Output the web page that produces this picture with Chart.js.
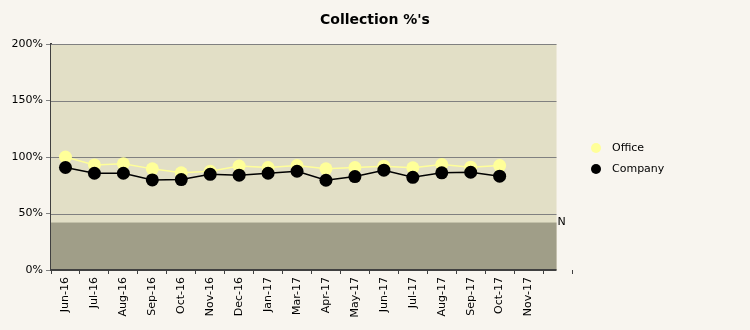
<!DOCTYPE html>
<html><head><meta charset="utf-8">
<script src="https://cdn.jsdelivr.net/npm/chart.js@4"></script>
<style>html,body{margin:0;padding:0;background:#f8f5ef;}#wrap{width:750px;height:330px;position:relative;}</style>
</head><body><div id="wrap"><canvas id="c" width="750" height="330"></canvas></div>
<script>
const categories = ["Jun-16","Jul-16","Aug-16","Sep-16","Oct-16","Nov-16","Dec-16","Jan-17","Mar-17","Apr-17","May-17","Jun-17","Jul-17","Aug-17","Sep-17","Oct-17","Nov-17",""];
const officeValues = [100,93,94,89.5,86,87.4,92,90.7,92.4,89.5,90.7,91.9,90.4,93.3,91,92.4,null,null];
const companyValues = [90.7,85.6,85.6,79.7,80,84.7,83.9,85.6,87.4,79.4,82.7,88.3,82,86,86.5,83,null,null];
const yTicks = [0,50,100,150,200];
const thresholdValue = 42;
const thresholdLabel = "N";
const titleText = "Collection %'s";

const FONT = "'DejaVu Sans', sans-serif";

const decor = {
  id: 'decor',
  beforeDatasetsDraw(chart) {
    const {ctx, chartArea, scales:{x,y}} = chart;
    const right = x.getPixelForValue(categories.length - 1) - 1;
    ctx.save();
    ctx.fillStyle = '#e2dfc6';
    ctx.fillRect(chartArea.left, chartArea.top, right - chartArea.left, chartArea.bottom - chartArea.top);
    const yb = y.getPixelForValue(thresholdValue);
    ctx.fillStyle = '#a09e88';
    ctx.fillRect(chartArea.left, yb, right - chartArea.left, chartArea.bottom - yb);
    ctx.strokeStyle = '#808080';
    ctx.lineWidth = 1;
    yTicks.forEach(v => {
      if (v === 0) return;
      const py = Math.round(y.getPixelForValue(v)) + 0.5;
      ctx.beginPath(); ctx.moveTo(chartArea.left, py); ctx.lineTo(right, py); ctx.stroke();
    });
    ctx.strokeStyle = '#404040';
    ctx.lineWidth = 2;
    ctx.beginPath(); ctx.moveTo(chartArea.left, chartArea.bottom); ctx.lineTo(right, chartArea.bottom); ctx.stroke();
    ctx.fillStyle = '#000';
    ctx.font = '11px ' + FONT;
    ctx.textAlign = 'left'; ctx.textBaseline = 'middle';
    ctx.fillText(thresholdLabel, right + 1, yb);
    ctx.restore();
  },
  afterDraw(chart) {
    const {ctx} = chart;
    ctx.save();
    ctx.fillStyle = '#000';
    ctx.font = 'bold 14px ' + FONT;
    ctx.textAlign = 'center'; ctx.textBaseline = 'middle';
    ctx.fillText(titleText, 375, 20);
    ctx.font = '11px ' + FONT;
    ctx.textAlign = 'left';
    chart.data.datasets.forEach((ds, i) => {
      const cy = 148 + i * 21;
      ctx.fillStyle = ds.pointBackgroundColor;
      ctx.beginPath(); ctx.arc(596, cy, 5, 0, Math.PI * 2); ctx.fill();
      ctx.fillStyle = '#000';
      ctx.fillText(ds.label, 612, cy);
    });
    ctx.restore();
  }
};

new Chart(document.getElementById('c'), {
  type: 'line',
  data: {
    labels: categories,
    datasets: [
      { label: 'Office', data: officeValues, borderColor: '#ffff99', backgroundColor: '#ffff99',
        pointBackgroundColor: '#ffff99', pointBorderWidth: 0, pointRadius: 6.5, borderWidth: 1.5, order: 2, spanGaps: false },
      { label: 'Company', data: companyValues, borderColor: '#000', backgroundColor: '#000',
        pointBackgroundColor: '#000', pointBorderWidth: 0, pointRadius: 6.5, borderWidth: 1.5, order: 1 }
    ]
  },
  options: {
    responsive: false, animation: false,
    layout: { padding: { top: 44, right: 178, left: 0, bottom: 0 } },
    plugins: { legend: { display: false }, title: { display: false }, tooltip: { enabled: false } },
    scales: {
      x: {
        offset: true,
        grid: { offset: true, drawOnChartArea: false, color: '#404040', tickLength: 4 },
        border: { display: false },
        ticks: { color: '#000', font: { family: FONT, size: 11 }, minRotation: 90, maxRotation: 90, autoSkip: false, padding: 3 },
        afterFit(s) { s.height = 60; }
      },
      y: {
        min: 0, max: 200,
        afterBuildTicks(s) { s.ticks = yTicks.map(v => ({ value: v })); },
        grid: { drawOnChartArea: false, color: '#808080', tickLength: 5 },
        border: { color: '#404040', width: 2 },
        ticks: { color: '#000', font: { family: FONT, size: 11 }, padding: 3, callback: v => v + '%' },
        afterFit(s) { s.width = 51; }
      }
    }
  },
  plugins: [decor]
});
</script></body></html>
